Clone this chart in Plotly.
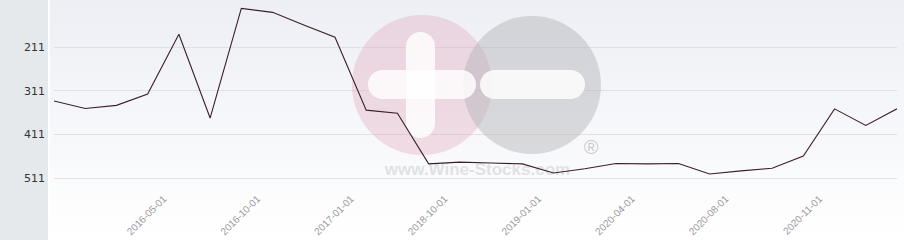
import plotly.graph_objects as go

# ---- data (rank, lower is better; axis reversed) ----
point_index = list(range(28))
rank_values = [334, 351, 344, 318, 181, 373, 122, 131, 160, 188,
               355, 362, 478, 474, 476, 478, 499, 489, 477, 478,
               477, 501, 494, 488, 460, 352, 390, 352]
tick_positions = [3, 6, 9, 12, 15, 18, 21, 24]
tick_labels = ["2016-05-01", "2016-10-01", "2017-01-01", "2018-10-01",
               "2019-01-01", "2020-04-01", "2020-08-01", "2020-11-01"]
y_ticks = [211, 311, 411, 511]

W, H = 904, 240
ML, MR, MT, MB = 54, 7, 0, 50
PW, PH = W - ML - MR, H - MT - MB
Y_TOP, Y_BOT = 102.7, 537.8
N = len(point_index)

def dx(px):
    return (px - ML) / PW * (N - 1)

def dy(py):
    return Y_TOP + (py - MT) / PH * (Y_BOT - Y_TOP)

def pxp(px):
    return (px - ML) / PW

def pyp(py):
    return 1 - (py - MT) / PH

fig = go.Figure()
fig.add_trace(go.Scatter(x=point_index, y=rank_values, mode="lines",
                         line=dict(color="#3b1f2b", width=1.1),
                         hoverinfo="skip", showlegend=False))

shapes = []
# background gradient bands
nb = 30
top = (237, 239, 244)
bot = (255, 255, 255)
for i in range(nb):
    t = i / (nb - 1)
    c = tuple(int(round(top[k] + (bot[k] - top[k]) * t)) for k in range(3))
    y0 = i * H / nb
    y1 = (i + 1) * H / nb + 1
    shapes.append(dict(type="rect", xref="paper", yref="paper", layer="below",
                       x0=pxp(49), x1=pxp(W + 2), y0=pyp(y0), y1=pyp(y1),
                       fillcolor="rgb(%d,%d,%d)" % c, line=dict(width=0)))
# left panel
shapes.append(dict(type="rect", xref="paper", yref="paper", layer="below",
                   x0=pxp(-2), x1=pxp(48), y0=pyp(-2), y1=pyp(H + 2),
                   fillcolor="#e6e9ec", line=dict(width=0)))

# watermark circles
def circle(cx, cy, r, color):
    return dict(type="circle", xref="x", yref="y", layer="between",
                x0=dx(cx - r), x1=dx(cx + r), y0=dy(cy - r), y1=dy(cy + r),
                fillcolor=color, line=dict(width=0))

shapes.append(circle(422, 85, 70, "rgba(225,170,188,0.38)"))
shapes.append(circle(532, 85, 69, "rgba(178,178,181,0.45)"))

K = 0.5523
def P(x, y):
    return "%.4f,%.3f" % (dx(x), dy(y))

def hcap(x0, x1, y0, y1):
    r = (y1 - y0) / 2
    yc = (y0 + y1) / 2
    return ("M" + P(x0 + r, y0) + " L" + P(x1 - r, y0) +
            " C" + P(x1 - r + K * r, y0) + " " + P(x1, yc - K * r) + " " + P(x1, yc) +
            " C" + P(x1, yc + K * r) + " " + P(x1 - r + K * r, y1) + " " + P(x1 - r, y1) +
            " L" + P(x0 + r, y1) +
            " C" + P(x0 + r - K * r, y1) + " " + P(x0, yc + K * r) + " " + P(x0, yc) +
            " C" + P(x0, yc - K * r) + " " + P(x0 + r - K * r, y0) + " " + P(x0 + r, y0) + " Z")

def vcap(x0, x1, y0, y1):
    r = (x1 - x0) / 2
    xc = (x0 + x1) / 2
    return ("M" + P(x0, y0 + r) +
            " C" + P(x0, y0 + r - K * r) + " " + P(xc - K * r, y0) + " " + P(xc, y0) +
            " C" + P(xc + K * r, y0) + " " + P(x1, y0 + r - K * r) + " " + P(x1, y0 + r) +
            " L" + P(x1, y1 - r) +
            " C" + P(x1, y1 - r + K * r) + " " + P(xc + K * r, y1) + " " + P(xc, y1) +
            " C" + P(xc - K * r, y1) + " " + P(x0, y1 - r + K * r) + " " + P(x0, y1 - r) + " Z")

wm_white = "rgba(255,255,255,0.82)"
for pth in [vcap(406, 435, 32, 138), hcap(368, 476, 70, 99), hcap(480, 585, 70, 99)]:
    shapes.append(dict(type="path", xref="x", yref="y", layer="between", path=pth,
                       fillcolor=wm_white, line=dict(width=0)))

# watermark text (as shape labels so they stay beneath the line)
shapes.append(dict(type="rect", xref="x", yref="y", layer="between",
                   x0=dx(380), x1=dx(575), y0=dy(156), y1=dy(178),
                   fillcolor="rgba(0,0,0,0)", line=dict(width=0),
                   label=dict(text="<b>www.Wine-Stocks.com</b>",
                              font=dict(family="Liberation Sans", size=17,
                                        color="rgba(200,200,205,0.5)"),
                              textposition="middle center")))
shapes.append(dict(type="rect", xref="x", yref="y", layer="between",
                   x0=dx(580), x1=dx(602), y0=dy(134), y1=dy(156),
                   fillcolor="rgba(0,0,0,0)", line=dict(width=0),
                   label=dict(text="®",
                              font=dict(family="Liberation Sans", size=20,
                                        color="rgba(170,170,172,0.6)"),
                              textposition="middle center")))
# thin white separator
shapes.append(dict(type="line", xref="paper", yref="paper", layer="below",
                   x0=pxp(49), x1=pxp(49), y0=pyp(0), y1=pyp(H),
                   line=dict(color="#ffffff", width=1.5)))

fig.update_layout(
    width=W, height=H,
    margin=dict(l=ML, r=MR, t=MT, b=MB, pad=0, autoexpand=False),
    paper_bgcolor="white", plot_bgcolor="rgba(0,0,0,0)",
    shapes=shapes, showlegend=False,
    xaxis=dict(range=[0, N - 1], tickmode="array", tickvals=tick_positions,
               ticktext=tick_labels, tickangle=-45, showgrid=False,
               zeroline=False, showline=False, ticks="", automargin=False,
               tickfont=dict(family="Liberation Sans", size=10, color="#9a9a9a"),
               ticklabelshift=16, ticklabelstandoff=0),
    yaxis=dict(range=[Y_BOT, Y_TOP], tickmode="array", tickvals=y_ticks,
               ticktext=[str(v) for v in y_ticks], showgrid=True,
               gridcolor="#e0e0e6", gridwidth=1, zeroline=False, showline=False,
               ticks="", ticklabelstandoff=8, automargin=False,
               tickfont=dict(family="DejaVu Sans", size=11, color="#333333")),
)

fig.write_html("out.html")
